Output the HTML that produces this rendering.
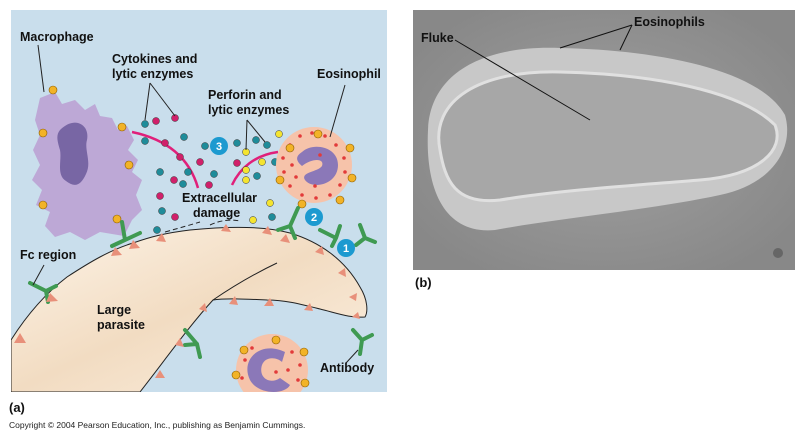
<!DOCTYPE html>
<html><head><style>
body{margin:0;background:#fff;width:800px;height:439px;overflow:hidden;font-family:"Liberation Sans",Arial,sans-serif}
</style></head><body>
<svg width="800" height="439" viewBox="0 0 800 439" xmlns="http://www.w3.org/2000/svg" font-family="Liberation Sans, Arial, sans-serif">
<defs>
<clipPath id="pa"><rect x="11" y="10" width="376" height="382"/></clipPath>
<linearGradient id="pg" x1="0" y1="0" x2="1" y2="1"><stop offset="0" stop-color="#fdf4e8"/><stop offset="0.5" stop-color="#f2dcc2"/><stop offset="1" stop-color="#fbefe0"/></linearGradient>
<radialGradient id="ph" cx="0.5" cy="0.5" r="0.6"><stop offset="0" stop-color="#a0a0a0"/><stop offset="1" stop-color="#888"/></radialGradient>
</defs>
<rect x="11" y="10" width="376" height="382" fill="#c9deec"/>
<g clip-path="url(#pa)">
<!-- parasite -->
<path d="M11,340 C30,310 50,290 67,277 C90,262 110,250 133,243 C150,237 165,233 190,230 C230,226 265,226 290,233 C320,242 345,260 360,287 C368,300 368,312 365,317 C350,318 340,314 320,309 C300,304 285,300 267,300 C245,299 225,298 213,300 C190,325 165,360 140,392 L11,392 Z" fill="url(#pg)" stroke="#222" stroke-width="1"/>
<path d="M213,300 C235,285 258,272 277,263" fill="none" stroke="#222" stroke-width="1"/>
<path d="M165,232 Q190,225 200,222 M210,225 Q225,218 240,221" fill="none" stroke="#222" stroke-dasharray="5,3"/>
<!-- macrophage -->
<path d="M40,98 L55,92 L62,104 L75,100 L85,110 L95,104 L100,116 L112,118 L118,130 L127,126 L134,140 L128,150 L138,160 L132,172 L142,180 L136,195 L142,210 L132,220 L124,236 L100,232 L85,240 L70,232 L55,237 L45,226 L50,212 L36,205 L42,190 L32,180 L40,165 L33,150 L40,135 L35,120 Z" fill="#bda8d6"/>
<path d="M60,130 C75,115 90,125 87,140 C84,150 92,162 86,174 C80,187 74,187 66,181 C56,175 62,160 60,150 C57,140 56,135 60,130 Z" fill="#7866a4"/>
<path d="M132,132 C170,140 190,160 198,188" fill="none" stroke="#e0207a" stroke-width="2.5"/>
<path d="M278,152 C255,155 240,168 232,185" fill="none" stroke="#e0207a" stroke-width="2.5"/>
<g stroke="#333" stroke-width=".5">
<circle cx="145" cy="124" r="3.5" fill="#1f8c9a"/><circle cx="156" cy="121" r="3.5" fill="#d0206a"/><circle cx="175" cy="118" r="3.5" fill="#d0206a"/>
<circle cx="145" cy="141" r="3.5" fill="#1f8c9a"/><circle cx="165" cy="143" r="3.5" fill="#d0206a"/><circle cx="184" cy="137" r="3.5" fill="#1f8c9a"/>
<circle cx="180" cy="157" r="3.5" fill="#d0206a"/><circle cx="200" cy="162" r="3.5" fill="#d0206a"/><circle cx="160" cy="172" r="3.5" fill="#1f8c9a"/>
<circle cx="188" cy="172" r="3.5" fill="#1f8c9a"/><circle cx="214" cy="174" r="3.5" fill="#1f8c9a"/><circle cx="174" cy="180" r="3.5" fill="#d0206a"/>
<circle cx="183" cy="184" r="3.5" fill="#1f8c9a"/><circle cx="209" cy="185" r="3.5" fill="#d0206a"/><circle cx="160" cy="196" r="3.5" fill="#d0206a"/>
<circle cx="162" cy="211" r="3.5" fill="#1f8c9a"/><circle cx="175" cy="217" r="3.5" fill="#d0206a"/><circle cx="157" cy="230" r="3.5" fill="#1f8c9a"/>
<circle cx="205" cy="146" r="3.5" fill="#1f8c9a"/><circle cx="237" cy="143" r="3.5" fill="#1f8c9a"/><circle cx="256" cy="140" r="3.5" fill="#1f8c9a"/>
<circle cx="267" cy="145" r="3.5" fill="#1f8c9a"/><circle cx="246" cy="152" r="3.5" fill="#f4e430"/><circle cx="279" cy="134" r="3.5" fill="#f4e430"/>
<circle cx="237" cy="163" r="3.5" fill="#d0206a"/><circle cx="262" cy="162" r="3.5" fill="#f4e430"/><circle cx="275" cy="162" r="3.5" fill="#1f8c9a"/>
<circle cx="246" cy="170" r="3.5" fill="#f4e430"/><circle cx="257" cy="176" r="3.5" fill="#1f8c9a"/><circle cx="246" cy="180" r="3.5" fill="#f4e430"/>
<circle cx="270" cy="203" r="3.5" fill="#f4e430"/><circle cx="272" cy="217" r="3.5" fill="#1f8c9a"/><circle cx="253" cy="220" r="3.5" fill="#f4e430"/>
</g>
<circle cx="314" cy="165" r="38" fill="#f6c3aa"/>
<path d="M302,152 C312,142 338,146 338,165 C338,185 312,190 305,180 C300,172 318,172 322,166 C325,158 312,158 302,166 C295,160 296,156 302,152 Z" fill="#8b78b8"/>
<g fill="#e23a3a">
<circle cx="290" cy="145" r="1.8"/><circle cx="300" cy="136" r="1.8"/><circle cx="312" cy="133" r="1.8"/><circle cx="325" cy="136" r="1.8"/><circle cx="336" cy="145" r="1.8"/><circle cx="344" cy="158" r="1.8"/><circle cx="345" cy="172" r="1.8"/><circle cx="340" cy="185" r="1.8"/><circle cx="330" cy="195" r="1.8"/><circle cx="316" cy="198" r="1.8"/><circle cx="302" cy="195" r="1.8"/><circle cx="290" cy="186" r="1.8"/><circle cx="284" cy="172" r="1.8"/><circle cx="283" cy="158" r="1.8"/><circle cx="292" cy="165" r="1.8"/><circle cx="296" cy="177" r="1.8"/><circle cx="320" cy="155" r="1.8"/><circle cx="315" cy="186" r="1.8"/>
</g>
<circle cx="272" cy="370" r="36" fill="#f6c3aa"/>
<path d="M285,352 C260,340 240,360 250,380 C258,395 285,395 290,385 L280,378 C270,385 258,378 262,365 C266,355 278,358 282,362 Z" fill="#8b78b8"/>
<g fill="#e23a3a"><circle cx="245" cy="360" r="1.8"/><circle cx="252" cy="348" r="1.8"/><circle cx="292" cy="352" r="1.8"/><circle cx="300" cy="365" r="1.8"/><circle cx="298" cy="380" r="1.8"/><circle cx="242" cy="378" r="1.8"/><circle cx="276" cy="372" r="1.8"/><circle cx="288" cy="370" r="1.8"/></g>
<g fill="#f2b327" stroke="#8a5a00" stroke-width=".6">
<circle cx="53" cy="90" r="4"/><circle cx="43" cy="133" r="4"/><circle cx="122" cy="127" r="4"/><circle cx="129" cy="165" r="4"/><circle cx="43" cy="205" r="4"/><circle cx="117" cy="219" r="4"/><circle cx="318" cy="134" r="4"/><circle cx="290" cy="148" r="4"/><circle cx="350" cy="148" r="4"/><circle cx="352" cy="178" r="4"/><circle cx="340" cy="200" r="4"/><circle cx="302" cy="204" r="4"/><circle cx="280" cy="180" r="4"/><circle cx="276" cy="340" r="4"/><circle cx="244" cy="350" r="4"/><circle cx="304" cy="352" r="4"/><circle cx="236" cy="375" r="4"/><circle cx="305" cy="383" r="4"/>
</g>
<g stroke="#3f9a52" stroke-width="4" fill="none" stroke-linecap="round">
<path d="M122,222 L125,240 L112,246 M125,240 L140,233"/>
<path d="M298,208 L290,226 L278,230 M290,226 L295,238"/>
<path d="M320,230 L336,238 M336,238 L340,226 M336,238 L332,246"/>
<path d="M360,225 L365,238 L356,245 M365,238 L375,242"/>
<path d="M30,283 L46,291 M46,291 L56,286 M46,291 L48,302"/>
<path d="M185,330 L197,344 L200,357 M197,344 L185,345"/>
<path d="M353,330 L362,340 L360,354 M362,340 L372,335"/>
</g>
<g fill="#e8907a">
<polygon points="20,333 26,343 14,343"/><polygon points="50,293 58,301 46,302"/><polygon points="115,247 122,255 111,256"/><polygon points="133,240 140,248 129,249"/><polygon points="162,233 166,242 156,241"/><polygon points="226,224 231,232 221,231"/><polygon points="268,226 272,235 262,233"/><polygon points="286,234 290,243 280,241"/><polygon points="322,246 324,255 315,252"/><polygon points="345,268 346,277 338,273"/><polygon points="357,293 356,301 349,297"/><polygon points="358,312 360,319 352,317"/><polygon points="310,303 313,311 304,310"/><polygon points="270,298 274,306 264,306"/><polygon points="235,296 238,305 229,304"/><polygon points="205,303 207,312 199,309"/><polygon points="180,338 184,347 175,345"/><polygon points="160,370 165,378 155,378"/>
</g>
<g font-weight="bold" font-size="11" fill="#fff" text-anchor="middle">
<circle cx="219" cy="146" r="9" fill="#1c9ad0"/><text x="219" y="150">3</text>
<circle cx="314" cy="217" r="9" fill="#1c9ad0"/><text x="314" y="221">2</text>
<circle cx="346" cy="248" r="9" fill="#1c9ad0"/><text x="346" y="252">1</text>
</g>
</g>
<g stroke="#222" stroke-width="1" fill="none">
<line x1="38" y1="45" x2="44" y2="92"/><line x1="150" y1="83" x2="145" y2="120"/><line x1="150" y1="83" x2="175" y2="116"/>
<line x1="247" y1="120" x2="246" y2="150"/><line x1="247" y1="120" x2="265" y2="142"/><line x1="345" y1="85" x2="330" y2="137"/>
<line x1="44" y1="265" x2="33" y2="285"/><line x1="346" y1="363" x2="358" y2="350"/>
</g>
<g font-weight="bold" font-size="12.5" fill="#111">
<text x="20" y="41">Macrophage</text>
<text x="112" y="63">Cytokines and</text><text x="112" y="78">lytic enzymes</text>
<text x="317" y="78">Eosinophil</text>
<text x="208" y="99">Perforin and</text><text x="208" y="114">lytic enzymes</text>
<text x="182" y="202">Extracellular</text><text x="193" y="217">damage</text>
<text x="20" y="259">Fc region</text>
<text x="97" y="314">Large</text><text x="97" y="329">parasite</text>
<text x="320" y="372">Antibody</text>
<text x="9" y="412" font-size="13">(a)</text>
<text x="415" y="287" font-size="13">(b)</text>
</g>
<text x="9" y="428" font-size="8.5" fill="#222">Copyright © 2004 Pearson Education, Inc., publishing as Benjamin Cummings.</text>
<rect x="413" y="10" width="382" height="260" fill="url(#ph)"/>
<path d="M428,130 C430,75 480,45 560,48 C660,50 760,70 785,115 C795,150 770,185 720,195 C650,210 560,218 495,230 C445,235 425,190 428,130 Z" fill="#c8c8c8"/>
<path d="M440,150 C430,100 480,70 560,72 C650,74 740,90 775,125 C785,150 760,175 700,180 C640,185 560,190 500,200 C455,205 445,180 440,150 Z" fill="#a7a7a7" stroke="#e0e0e0" stroke-width="3"/>
<circle cx="778" cy="253" r="5" fill="#666"/>
<g stroke="#111" stroke-width="1"><line x1="455" y1="40" x2="590" y2="120"/><line x1="632" y1="25" x2="560" y2="48"/><line x1="632" y1="25" x2="620" y2="50"/></g>
<g font-weight="bold" font-size="12.5" fill="#111"><text x="421" y="42">Fluke</text><text x="634" y="26">Eosinophils</text></g>
</svg>
</body></html>
